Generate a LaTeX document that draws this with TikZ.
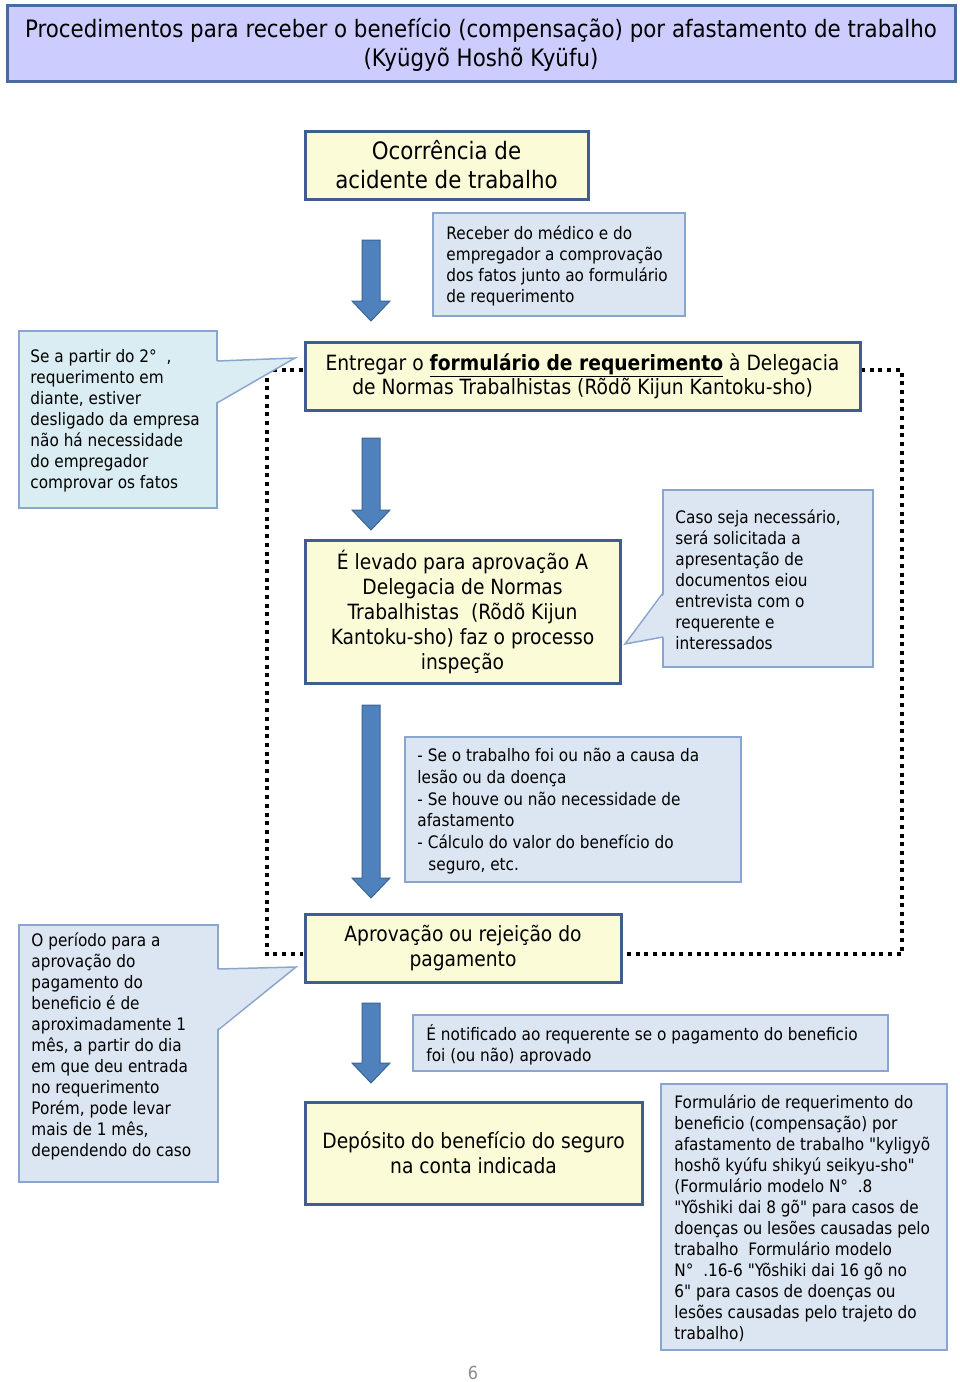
\documentclass[tikz,border=0pt]{standalone}
\usepackage{fontspec}
\setmainfont{DejaVu Sans}[FakeStretch=0.89, Ligatures=TeXOff]
\usetikzlibrary{calc}
\definecolor{titlefill}{HTML}{CCCCFF}
\definecolor{titleline}{HTML}{4A6B9D}
\definecolor{boxfill}{HTML}{FBFBD8}
\definecolor{boxline}{HTML}{3F5E8E}
\definecolor{calfill}{HTML}{DCE6F2}
\definecolor{calfillb}{HTML}{DAEDF3}
\definecolor{calline}{HTML}{8AA6CF}
\definecolor{arrfill}{HTML}{4F81BD}
\definecolor{arrline}{HTML}{3A6595}
\definecolor{pagegray}{HTML}{8C8C8C}
\newcommand\dnarrow[3]{%
  \draw[blockarrow] (362,#1) -- (380,#1) -- (380,#2) -- (390,#2) -- (371,#3) -- (352,#2) -- (362,#2) -- cycle;}
\begin{document}
\begin{tikzpicture}[x=1pt,y=-1pt,
  titlebox/.style={draw=titleline, line width=3pt, fill=titlefill, inner sep=0pt},
  mainbox/.style={draw=boxline, line width=3pt, fill=boxfill, inner sep=0pt, align=center},
  calbox/.style={draw=calline, line width=1.5pt, fill=calfill, inner sep=0pt},
  caltext/.style={inner sep=0pt, align=left, anchor=west, yshift=-1.5pt, font=\fontsize{17.2}{21}\selectfont},
  blockarrow/.style={draw=arrline, line width=1pt, fill=arrfill, line join=miter},
  dotline/.style={line width=4pt, dash pattern=on 4pt off 4.7pt, black},
  ptr/.style={draw=calline, line width=1.5pt, line join=miter}
]
\useasboundingbox (0,0) rectangle (960,1382);

% dotted loop (behind boxes)
\coordinate (dr1) at (902,370);
\coordinate (dr2) at (902,954);
\coordinate (dl1) at (267,370);
\coordinate (dl2) at (267,954);
\draw[dotline] (861,370) -- (dr1) -- (dr2) -- (623,954);
\draw[dotline] (303,370) -- (dl1) -- (dl2) -- (303,954);

% title
\node[titlebox, minimum width=948, minimum height=76] (title) at (481,43) {};
\node[inner sep=0pt, align=center, font=\fontsize{24}{29}\selectfont] (titletext) at (481,45)
  {Procedimentos para receber o benefício (compensação) por afastamento de trabalho\\(Kyügyõ Hoshõ Kyüfu)};

% main boxes
\node[mainbox, minimum width=283, minimum height=68, font=\fontsize{24}{29}\selectfont] (b1) at (446.5,165)
  {Ocorrência de\\acidente de trabalho};
\node[mainbox, minimum width=555, minimum height=68, font=\fontsize{21}{24}\selectfont] (b2) at (582.5,376)
  {Entregar o \textbf{\underline{formulário de requerimento}} à Delegacia\\de Normas Trabalhistas (Rõdõ Kijun Kantoku-sho)};
\node[mainbox, minimum width=315, minimum height=143, font=\fontsize{21}{25}\selectfont] (b3) at (462.5,611.5)
  {É levado para aprovação A\\Delegacia de Normas\\Trabalhistas\ \ (Rõdõ Kijun\\Kantoku-sho) faz o processo\\inspeção};
\node[mainbox, minimum width=316, minimum height=68, font=\fontsize{21}{25}\selectfont] (b5) at (463,948)
  {Aprovação ou rejeição do\\pagamento};
\node[mainbox, minimum width=337, minimum height=102, font=\fontsize{21}{25}\selectfont] (b6) at (473.5,1153)
  {Depósito do benefício do seguro\\na conta indicada};

% block arrows
\dnarrow{240}{301}{321}
\dnarrow{438}{510}{530}
\dnarrow{705}{878}{898}
\dnarrow{1003}{1063}{1083}

% callouts
\node[calbox, minimum width=252, minimum height=103] (c1) at (559,264.5) {};
\node[caltext] (c1t) at ([xshift=14]c1.west)
  {Receber do médico e do\\empregador a comprovação\\dos fatos junto ao formulário\\de requerimento};

\node[calbox, fill=calfillb, minimum width=198, minimum height=177] (l1) at (118,419.5) {};
\coordinate (l1tip) at (295,358);
\fill[calfillb] (215,361) -- (l1tip) -- (215,403) -- cycle;
\draw[ptr] (217,361) -- (l1tip) -- (217,403);
\node[caltext] (l1t) at ([xshift=12]l1.west)
  {Se a partir do 2°\ \ ,\\requerimento em\\diante, estiver\\desligado da empresa\\não há necessidade\\do empregador\\comprovar os fatos};

\node[calbox, minimum width=210, minimum height=177] (c3) at (768,578.5) {};
\coordinate (c3tip) at (625,644);
\fill[calfill] (665,593) -- (c3tip) -- (665,637) -- cycle;
\draw[ptr] (663,593) -- (c3tip) -- (663,637);
\node[caltext] (c3t) at ([xshift=13]c3.west)
  {Caso seja necessário,\\será solicitada a\\apresentação de\\documentos eiou\\entrevista com o\\requerente e\\interessados};

\node[calbox, minimum width=336, minimum height=145] (c4) at (573,809.5) {};
\node[caltext, font=\fontsize{17.2}{21.8}\selectfont] (c4t) at ([xshift=13]c4.west)
  {- Se o trabalho foi ou não a causa da\\lesão ou da doença\\- Se houve ou não necessidade de\\afastamento\\- Cálculo do valor do benefício do\\\hspace*{11pt}seguro, etc.};

\node[calbox, minimum width=199, minimum height=257] (l2) at (118.5,1053.5) {};
\coordinate (l2tip) at (296,967);
\fill[calfill] (216,969) -- (l2tip) -- (216,1030) -- cycle;
\draw[ptr] (218,969) -- (l2tip) -- (218,1030);
\node[caltext] (l2t) at ([xshift=13]l2.west)
  {O período para a\\aprovação do\\pagamento do\\beneficio é de\\aproximadamente 1\\mês, a partir do dia\\em que deu entrada\\no requerimento\\Porém, pode levar\\mais de 1 mês,\\dependendo do caso\\\mbox{}};

\node[calbox, minimum width=475, minimum height=56] (c5) at (650.5,1043) {};
\node[caltext] (c5t) at ([xshift=14]c5.west)
  {É notificado ao requerente se o pagamento do beneficio\\foi (ou não) aprovado};

\node[calbox, minimum width=286, minimum height=266] (c6) at (804,1217) {};
\node[caltext] (c6t) at ([xshift=14]c6.west)
  {Formulário de requerimento do\\beneficio (compensação) por\\afastamento de trabalho "kyligyõ\\hoshõ kyúfu shikyú seikyu-sho"\\(Formulário modelo N°\ \ .8\\"Yõshiki dai 8 gõ" para casos de\\doenças ou lesões causadas pelo\\trabalho\ \ Formulário modelo\\N°\ \ .16-6 "Yõshiki dai 16 gõ no\\6" para casos de doenças ou\\lesões causadas pelo trajeto do\\trabalho)};

% page number
\node[font=\fontsize{18}{20}\selectfont, text=pagegray, inner sep=0pt] (pg) at (473,1373) {6};
\end{tikzpicture}
\end{document}
